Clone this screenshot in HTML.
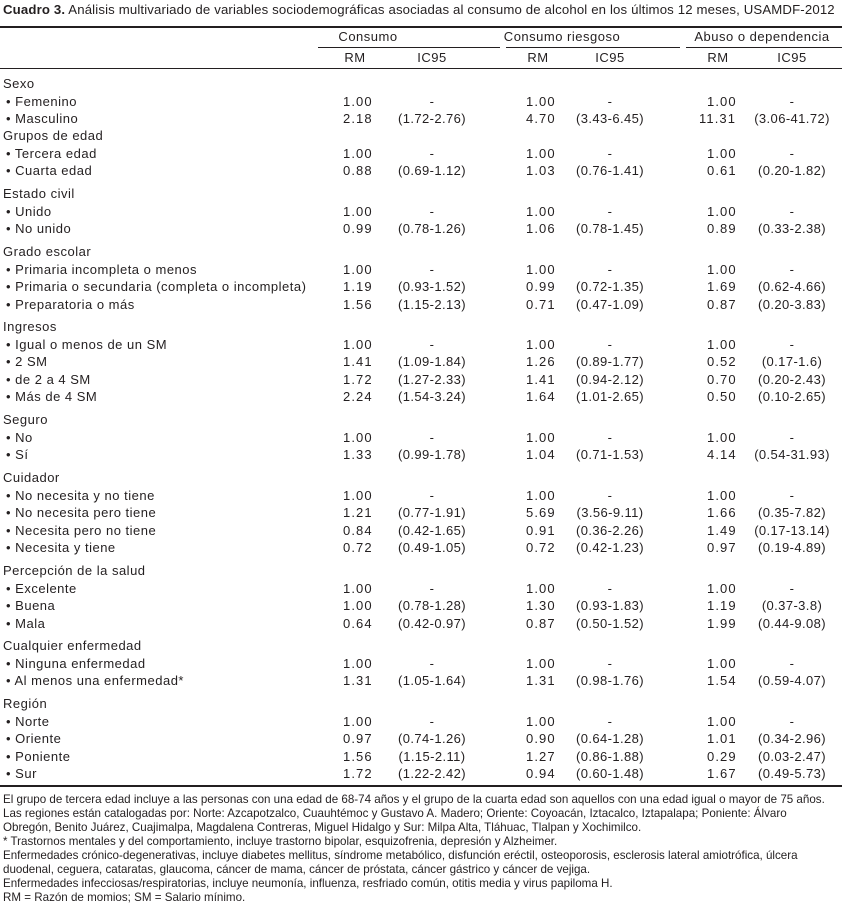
<!DOCTYPE html>
<html><head><meta charset="utf-8">
<style>
body{margin:0;width:842px;height:909px;background:#fff;position:relative;overflow:hidden;font-family:"Liberation Sans",sans-serif;color:#231f20}
.t{position:absolute;white-space:nowrap;font-size:13px;line-height:16px;letter-spacing:0.5px}
.n{letter-spacing:1.1px}
.ic{letter-spacing:0.4px}
.c{transform:translateX(-50%)}
.f{position:absolute;left:3px;white-space:nowrap;font-size:11.6px;line-height:14px}
.ln{position:absolute;height:1px;background:#231f20}
</style></head>
<body>
<div class="t" style="left:3px;top:2px;font-size:13.2px;letter-spacing:0.15px"><b>Cuadro 3.</b> Análisis multivariado de variables sociodemográficas asociadas al consumo de alcohol en los últimos 12 meses, USAMDF-2012</div>
<div class="ln" style="left:0;top:26px;width:842px;height:2px"></div>
<div class="t c" style="left:368px;top:29px">Consumo</div>
<div class="t c" style="left:562px;top:29px">Consumo riesgoso</div>
<div class="t c" style="left:762px;top:29px">Abuso o dependencia</div>
<div class="ln" style="left:318px;top:47px;width:182px"></div>
<div class="ln" style="left:506px;top:47px;width:174px"></div>
<div class="ln" style="left:686px;top:47px;width:156px"></div>
<div class="t c" style="left:355px;top:50px">RM</div>
<div class="t c" style="left:432px;top:50px">IC95</div>
<div class="t c" style="left:538px;top:50px">RM</div>
<div class="t c" style="left:610px;top:50px">IC95</div>
<div class="t c" style="left:718px;top:50px">RM</div>
<div class="t c" style="left:792px;top:50px">IC95</div>
<div class="ln" style="left:0;top:68px;width:842px"></div>
<div id="rows"></div>
<div class="ln" style="left:0;top:785px;width:842px;height:2px"></div>
<div class="f" style="top:793px">El grupo de tercera edad incluye a las personas con una edad de 68-74 años y el grupo de la cuarta edad son aquellos con una edad igual o mayor de 75 años.</div>
<div class="f" style="top:807px">Las regiones están catalogadas por: Norte: Azcapotzalco, Cuauhtémoc y Gustavo A. Madero; Oriente: Coyoacán, Iztacalco, Iztapalapa; Poniente: Álvaro</div>
<div class="f" style="top:821px">Obregón, Benito Juárez, Cuajimalpa, Magdalena Contreras, Miguel Hidalgo y Sur: Milpa Alta, Tláhuac, Tlalpan y Xochimilco.</div>
<div class="f" style="top:835px">* Trastornos mentales y del comportamiento, incluye trastorno bipolar, esquizofrenia, depresión y Alzheimer.</div>
<div class="f" style="top:849px">Enfermedades crónico-degenerativas, incluye diabetes mellitus, síndrome metabólico, disfunción eréctil, osteoporosis, esclerosis lateral amiotrófica, úlcera</div>
<div class="f" style="top:863px">duodenal, ceguera, cataratas, glaucoma, cáncer de mama, cáncer de próstata, cáncer gástrico y cáncer de vejiga.</div>
<div class="f" style="top:877px">Enfermedades infecciosas/respiratorias, incluye neumonía, influenza, resfriado común, otitis media y virus papiloma H.</div>
<div class="f" style="top:891px">RM = Razón de momios; SM = Salario mínimo.</div>
<script>
const labels=["Sexo","Femenino","Masculino","Grupos de edad","Tercera edad","Cuarta edad","Estado civil","Unido","No unido","Grado escolar","Primaria incompleta o menos","Primaria o secundaria (completa o incompleta)","Preparatoria o más","Ingresos","Igual o menos de un SM","2 SM","de 2 a 4 SM","Más de 4 SM","Seguro","No","Sí","Cuidador","No necesita y no tiene","No necesita pero tiene","Necesita pero no tiene","Necesita y tiene","Percepción de la salud","Excelente","Buena","Mala","Cualquier enfermedad","Ninguna enfermedad","Al menos una enfermedad*","Región","Norte","Oriente","Poniente","Sur"];
const rm1=["","1.00","2.18","","1.00","0.88","","1.00","0.99","","1.00","1.19","1.56","","1.00","1.41","1.72","2.24","","1.00","1.33","","1.00","1.21","0.84","0.72","","1.00","1.00","0.64","","1.00","1.31","","1.00","0.97","1.56","1.72"];
const ic1=["","-","(1.72-2.76)","","-","(0.69-1.12)","","-","(0.78-1.26)","","-","(0.93-1.52)","(1.15-2.13)","","-","(1.09-1.84)","(1.27-2.33)","(1.54-3.24)","","-","(0.99-1.78)","","-","(0.77-1.91)","(0.42-1.65)","(0.49-1.05)","","-","(0.78-1.28)","(0.42-0.97)","","-","(1.05-1.64)","","-","(0.74-1.26)","(1.15-2.11)","(1.22-2.42)"];
const rm2=["","1.00","4.70","","1.00","1.03","","1.00","1.06","","1.00","0.99","0.71","","1.00","1.26","1.41","1.64","","1.00","1.04","","1.00","5.69","0.91","0.72","","1.00","1.30","0.87","","1.00","1.31","","1.00","0.90","1.27","0.94"];
const ic2=["","-","(3.43-6.45)","","-","(0.76-1.41)","","-","(0.78-1.45)","","-","(0.72-1.35)","(0.47-1.09)","","-","(0.89-1.77)","(0.94-2.12)","(1.01-2.65)","","-","(0.71-1.53)","","-","(3.56-9.11)","(0.36-2.26)","(0.42-1.23)","","-","(0.93-1.83)","(0.50-1.52)","","-","(0.98-1.76)","","-","(0.64-1.28)","(0.86-1.88)","(0.60-1.48)"];
const rm3=["","1.00","11.31","","1.00","0.61","","1.00","0.89","","1.00","1.69","0.87","","1.00","0.52","0.70","0.50","","1.00","4.14","","1.00","1.66","1.49","0.97","","1.00","1.19","1.99","","1.00","1.54","","1.00","1.01","0.29","1.67"];
const ic3=["","-","(3.06-41.72)","","-","(0.20-1.82)","","-","(0.33-2.38)","","-","(0.62-4.66)","(0.20-3.83)","","-","(0.17-1.6)","(0.20-2.43)","(0.10-2.65)","","-","(0.54-31.93)","","-","(0.35-7.82)","(0.17-13.14)","(0.19-4.89)","","-","(0.37-3.8)","(0.44-9.08)","","-","(0.59-4.07)","","-","(0.34-2.96)","(0.03-2.47)","(0.49-5.73)"];
// vertical centre of each group heading (layout)
const groupCenters=[84,136,194,252,327,420,478,571,646,704];
const root=document.getElementById('rows');
function add(txt,x,top,cls,name){const d=document.createElement('div');d.className='t'+(cls?' '+cls:'');d.textContent=txt;d.style.left=x+'px';d.style.top=top+'px';


root.appendChild(d);}
let gi=-1,y=0;
labels.forEach((l,i)=>{
 const isHead=rm1[i]==="";
 if(isHead){gi++;y=groupCenters[gi];}else{y+=17.6;}
 const top=Math.round(y-8);
 const slug=l.toLowerCase().normalize('NFD').replace(/[^a-z0-9]+/g,'-').replace(/^-|-$/g,'');
 add(isHead?l:'\u2022 '+l,isHead?3:6,top,'',(isHead?'group-':'row-')+slug);
 if(!isHead){
  add(rm1[i],343,top,'n','rm-consumo-'+slug);
  add(ic1[i],432,top,'c ic','ic95-consumo-'+slug);
  add(rm2[i],526,top,'n','rm-riesgoso-'+slug);
  add(ic2[i],610,top,'c ic','ic95-riesgoso-'+slug);
  add(rm3[i],rm3[i].length>4?699:707,top,'n','rm-abuso-'+slug);
  add(ic3[i],792,top,'c ic','ic95-abuso-'+slug);
 }
});
</script>
</body></html>
